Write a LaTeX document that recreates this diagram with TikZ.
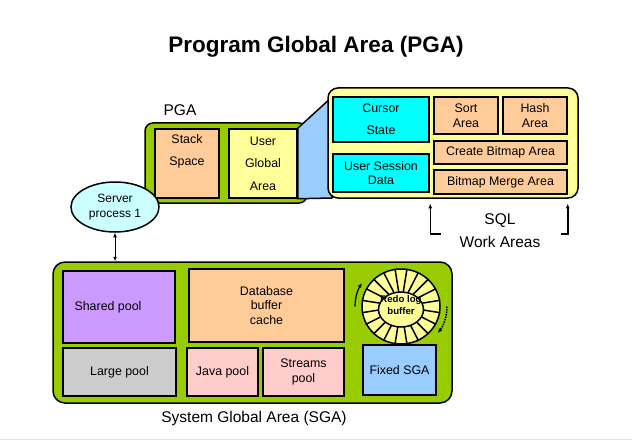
\documentclass[tikz,border=0pt]{standalone}
\usepackage{fontspec}
\setmainfont{Liberation Sans}
\usetikzlibrary{arrows.meta,shapes.geometric}

\definecolor{areagreen}{HTML}{99CC00}
\definecolor{lorange}{HTML}{FFCC99}
\definecolor{lyellow}{HTML}{FFFF99}
\definecolor{sqlcyan}{HTML}{00FFFF}
\definecolor{lcyan}{HTML}{CCFFFF}
\definecolor{lpurple}{HTML}{CC99FF}
\definecolor{lgray}{HTML}{CCCCCC}
\definecolor{lpink}{HTML}{FFCCCC}
\definecolor{lblue}{HTML}{99CCFF}
\definecolor{pinkline}{HTML}{FFDADA}

\tikzset{
  txt/.style={font=\fontsize{12.4}{14.5}\selectfont, align=center},
  wide/.style={font=\fontsize{12.4}{22.5}\selectfont, align=center},
  lbl/.style={font=\fontsize{15.5}{23}\selectfont, align=center},
  frame/.style={draw, line width=1.5pt, fill=areagreen, inner sep=0pt},
  box/.style={draw, line width=1.5pt, inner sep=0pt, txt},
  smalltip/.tip={Latex[length=4.5pt,width=4pt]},
}

\begin{document}
\begin{tikzpicture}[x=1pt, y=-1pt]
\useasboundingbox (0,0) rectangle (632,441);
\node[font=\fontsize{22.5}{27}\selectfont\bfseries] (title) at (316,47) {Program Global Area (PGA)};

% PGA
\node[lbl] (pgalbl) at (180,110) {PGA};
\node[frame, rounded corners=8pt, minimum width=162pt, minimum height=80pt] (pga) at (226,163) {};
\node[box, fill=lorange, minimum width=64pt, minimum height=69pt,
      label={[wide, yshift=12pt]center:Stack\\Space}] (stack) at (187,163.5) {};
\node[box, wide, fill=lyellow, minimum width=68pt, minimum height=69pt] (uga) at (263,163.5) {User\\Global\\Area};
\coordinate (sqlnw) at (332,97);
\coordinate (sqlsw) at (332,198);
\draw[line width=1.5pt, line join=round, fill=lblue] (uga.north east) -- (sqlnw) -- (sqlsw) -- (uga.south east) -- cycle;

% SQL work areas
\node[frame, fill=lyellow, rounded corners=10pt, minimum width=250pt, minimum height=110pt] (sql) at (453,143) {};
\node[box, fill=sqlcyan, font=\fontsize{12.4}{22}\selectfont, minimum width=96pt, minimum height=45pt] (cursor) at (381,119.5) {Cursor\\State};
\node[box, fill=sqlcyan, minimum width=96pt, minimum height=38pt] (usd) at (381,173) {User Session\\Data};
\node[box, fill=lorange, minimum width=64pt, minimum height=37pt] (sort) at (466,115.5) {Sort\\Area};
\node[box, fill=lorange, minimum width=64pt, minimum height=37pt] (hash) at (535,115.5) {Hash\\Area};
\node[box, fill=lorange, minimum width=133pt, minimum height=23pt] (cbm) at (500.5,152.5) {Create Bitmap Area};
\node[box, fill=lorange, minimum width=133pt, minimum height=24pt] (bmm) at (500.5,182) {Bitmap Merge Area};
\node[lbl] (sqllbl) at (500,231) {SQL\\Work Areas};
\coordinate (footL) at (441,234);
\coordinate (footR) at (561,234);
\draw[line width=1.5pt, -smalltip] (footL) -| ([xshift=-3pt, yshift=-9pt]bmm.south west);
\draw[line width=1.5pt, -smalltip] (footR) -| ([yshift=-9pt]bmm.south east);

% server process
\node[ellipse, draw, line width=1.5pt, fill=lcyan, minimum width=88pt, minimum height=50pt, inner sep=0pt,
      font=\fontsize{12}{15}\selectfont, align=center] (srv) at (115,207) {Server\\process 1};

% SGA
\node[frame, rounded corners=12pt, minimum width=399pt, minimum height=141pt] (sga) at (252.5,332.5) {};
\draw[line width=1pt, smalltip-smalltip] (srv.south) -- (srv.south |- sga.north);
\node[box, fill=lpurple, minimum width=112pt, minimum height=72pt,
      label={[txt, xshift=-11pt]center:Shared pool}] (shared) at (119,307) {};
\node[box, fill=lgray, minimum width=113pt, minimum height=48pt] (large) at (119.5,372) {Large pool};
\node[box, fill=lorange, minimum width=155pt, minimum height=73pt] (dbbc) at (266.5,305.5) {Database\\buffer\\cache};
\node[box, fill=lpink, minimum width=71pt, minimum height=48pt] (java) at (222.5,372) {Java pool};
\node[box, fill=lpink, minimum width=81pt, minimum height=48pt] (streams) at (303.5,372) {Streams\\pool};
\node[box, fill=lblue, minimum width=73pt, minimum height=50pt] (fixed) at (399.5,370) {Fixed SGA};

% redo log ring
\node[ellipse, draw, line width=1.5pt, fill=lyellow, minimum width=78pt, minimum height=75pt, inner sep=0pt] (redo) at (401,306.5) {};
\foreach \a in {9,27,...,351}
  \draw[line width=1.5pt] (redo.center) -- (redo.\a);
\node[ellipse, draw, line width=1.5pt, fill=lyellow, minimum width=45pt, minimum height=35pt, inner sep=0pt] (redoin) at (401,309.5) {};
\node[font=\fontsize{9.6}{12}\selectfont\bfseries, align=center] (redotxt) at (401,305.5) {Redo log\\buffer};
\draw[line width=1.2pt, -smalltip] ([shift={(180:46pt and 44pt)}]redo.center)
  arc[start angle=180, end angle=148, x radius=46pt, y radius=44pt];
\draw[line width=1.5pt, densely dotted, -smalltip] ([shift={(0:46pt and 44pt)}]redo.center)
  arc[start angle=0, end angle=-37, x radius=46pt, y radius=44pt];

\node[lbl] (sgalbl) at (254,418) {System Global Area (SGA)};
\draw[pinkline, line width=1pt] (0,439.5) -- (632,439.5);
\end{tikzpicture}
\end{document}
